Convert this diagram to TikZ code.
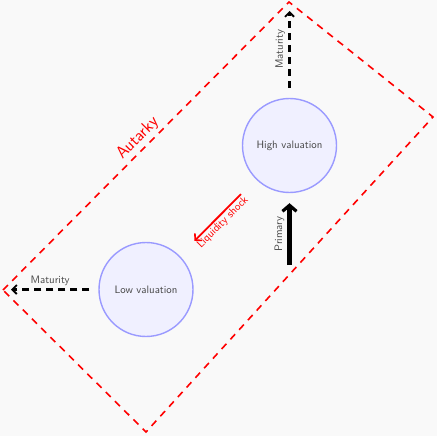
\documentclass[tikz,border=0pt]{standalone}
\usetikzlibrary{arrows.meta}
\definecolor{bg}{HTML}{F9F9F9}
\definecolor{txt}{HTML}{464646}
\definecolor{statefill}{HTML}{F0F0FF}
\definecolor{stateedge}{HTML}{9A9AFF}
\tikzset{
  state/.style={circle, draw=stateedge, fill=statefill, line width=1.4pt,
    minimum size=94pt, inner sep=0pt, text=txt,
    font=\sffamily\fontsize{10.8}{13}\selectfont},
  lbl/.style={text=txt, font=\sffamily\fontsize{10.8}{13}\selectfont},
  matarrow/.style={draw=black, line width=2.8pt, dash pattern=on 7pt off 5pt,
    -{Straight Barb[length=4.5pt,width=9pt,line width=1.8pt]}},
  primarrow/.style={draw=black, line width=4.4pt,
    -{Straight Barb[length=6pt,width=14pt,line width=3.2pt]}},
  shockarrow/.style={draw=red, line width=1.8pt,
    -{Straight Barb[length=4.5pt,width=10pt,line width=1.6pt]}},
  zone/.style={draw=red, line width=1.6pt, dash pattern=on 7pt off 6pt},
}
\begin{document}
\begin{tikzpicture}[x=1pt,y=-1pt]
  % canvas
  \fill[bg] (0,0) rectangle (437,436);
  \useasboundingbox (0,0) rectangle (437,436);

  % autarky region
  \coordinate (cl) at (3,290);
  \coordinate (ct) at (289,2);
  \coordinate (cr) at (433,117);
  \coordinate (cb) at (146,432);
  \draw[zone] (cl) -- node[midway, sloped, above, inner sep=3pt, text=red,
      font=\sffamily\fontsize{17}{20}\selectfont] {Autarky}
    (ct) -- (cr) -- (cb) -- cycle;

  % states
  \node[state] (high) at (289.5,145.5) {High valuation};
  \node[state] (low) at (146,289.5) {Low valuation};

  % maturity exits
  \coordinate (topend) at (289.5,11);
  \coordinate (leftend) at (11,289.5);
  \draw[matarrow] ([yshift=10pt]high.north) -- node[midway, lbl, rotate=90, anchor=south, inner sep=3pt] {Maturity} (topend);
  \draw[matarrow] ([xshift=-9pt]low.west) -- node[midway, lbl, anchor=south, inner sep=2pt] {Maturity} (leftend);

  % primary market entry
  \coordinate (pstart) at (289.5,265);
  \draw[primarrow] (pstart) -- node[midway, lbl, rotate=90, anchor=south, inner sep=3pt] {Primary} ([yshift=-10pt]high.south);

  % liquidity shock
  \draw[shockarrow, shorten <=21pt, shorten >=21pt] (high) -- node[midway, rotate=45, anchor=north, inner sep=1.5pt, text=red,
      font=\sffamily\fontsize{11}{13}\selectfont] {Liquidity shock} (low);
\end{tikzpicture}
\end{document}
